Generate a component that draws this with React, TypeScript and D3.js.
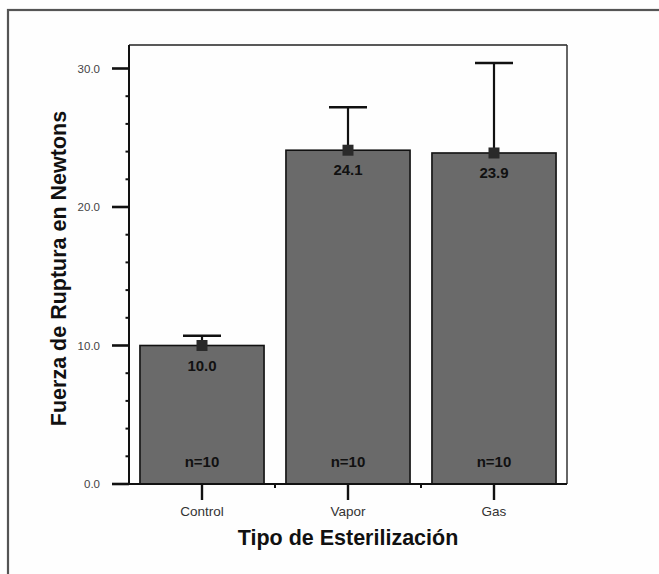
import React from "react";
import * as d3 from "d3";

const categories = ["Control", "Vapor", "Gas"];
const means = [10.0, 24.1, 23.9];
const upperErr = [10.7, 27.2, 30.4];
const nLabels = ["n=10", "n=10", "n=10"];
const yTicks = [0, 10, 20, 30];
const yMinorTicks = [2, 4, 6, 8, 12, 14, 16, 18, 22, 24, 26, 28];

const W = 659;
const H = 574;
const left = 129;
const right = 567;
const top = 45;
const bottom = 484;

export default function App() {
  const y = d3.scaleLinear().domain([0, 30]).range([bottom, 68.5]);
  const x = d3
    .scaleBand<string>()
    .domain(categories)
    .range([left, right])
    .paddingInner(0.15)
    .paddingOuter(0.075);
  const step = x.step();
  const fontMain = "'Liberation Sans', Arial, sans-serif";

  return (
    <svg
      width={W}
      height={H}
      style={{ position: "absolute", left: 0, top: 0, display: "block", background: "#fff" }}
    >
      {/* outer frame */}
      <rect x={8} y={10} width={W + 20} height={H + 20} fill="#fefefe" stroke="#555" strokeWidth={2.2} />

      {/* bars */}
      {categories.map((c, i) => (
        <rect
          key={c}
          x={x(c)}
          y={y(means[i])}
          width={x.bandwidth()}
          height={bottom - y(means[i])}
          fill="#6a6a6a"
          stroke="#111"
          strokeWidth={1.6}
        />
      ))}

      {/* error bars */}
      {categories.map((c, i) => {
        const cx = (x(c) as number) + x.bandwidth() / 2;
        return (
          <g key={"e" + c}>
            <line x1={cx} x2={cx} y1={y(means[i])} y2={y(upperErr[i])} stroke="#111" strokeWidth={2.2} />
            <line x1={cx - 19} x2={cx + 19} y1={y(upperErr[i])} y2={y(upperErr[i])} stroke="#111" strokeWidth={2.6} />
            <rect x={cx - 5.5} y={y(means[i]) - 5.5} width={11} height={11} fill="#2a2a2a" />
            <text
              x={cx}
              y={y(means[i]) + 25}
              textAnchor="middle"
              fontFamily={fontMain}
              fontWeight="bold"
              fontSize={15}
              fill="#111"
            >
              {means[i].toFixed(1)}
            </text>
            <text
              x={cx}
              y={467}
              textAnchor="middle"
              fontFamily={fontMain}
              fontWeight="bold"
              fontSize={15}
              fill="#111"
            >
              {nLabels[i]}
            </text>
          </g>
        );
      })}

      {/* plot frame top/right */}
      <line x1={left} x2={right} y1={top} y2={top} stroke="#222" strokeWidth={1.5} />
      <line x1={right} x2={right} y1={top} y2={bottom} stroke="#333" strokeWidth={1.5} />
      {/* axes */}
      <line x1={left} x2={left} y1={top} y2={bottom + 1} stroke="#111" strokeWidth={2} />
      <line x1={left} x2={right} y1={bottom} y2={bottom} stroke="#111" strokeWidth={2} />

      {/* y ticks */}
      {yTicks.map((t) => (
        <g key={"yt" + t}>
          <line x1={112} x2={left} y1={y(t)} y2={y(t)} stroke="#111" strokeWidth={2.6} />
          <text
            x={100}
            y={y(t) + 4}
            textAnchor="end"
            fontFamily={fontMain}
            fontSize={11.5}
            fill="#444"
          >
            {t.toFixed(1)}
          </text>
        </g>
      ))}
      {yMinorTicks.map((t) => (
        <line key={"ym" + t} x1={125.5} x2={left} y1={y(t)} y2={y(t)} stroke="#111" strokeWidth={2} />
      ))}

      {/* x ticks */}
      {categories.map((c) => {
        const cx = (x(c) as number) + x.bandwidth() / 2;
        return (
          <g key={"xt" + c}>
            <line x1={cx} x2={cx} y1={bottom} y2={500} stroke="#111" strokeWidth={2.4} />
            <text
              x={cx}
              y={516}
              textAnchor="middle"
              fontFamily={fontMain}
              fontSize={13.5}
              fill="#333"
            >
              {c}
            </text>
          </g>
        );
      })}
      {categories.slice(1).map((c) => {
        const bx = (x(c) as number) - (x.paddingInner() * step) / 2;
        return <line key={"xm" + c} x1={bx} x2={bx} y1={bottom} y2={488} stroke="#111" strokeWidth={2} />;
      })}

      {/* axis titles */}
      <text
        x={(left + right) / 2}
        y={545}
        textAnchor="middle"
        fontFamily={fontMain}
        fontWeight="bold"
        fontSize={21.5}
        fill="#111"
      >
        Tipo de Esterilización
      </text>
      <text
        transform={`translate(66,${(top + bottom) / 2 + 4}) rotate(-90)`}
        textAnchor="middle"
        fontFamily={fontMain}
        fontWeight="bold"
        fontSize={21.5}
        fill="#111"
      >
        Fuerza de Ruptura en Newtons
      </text>
    </svg>
  );
}
